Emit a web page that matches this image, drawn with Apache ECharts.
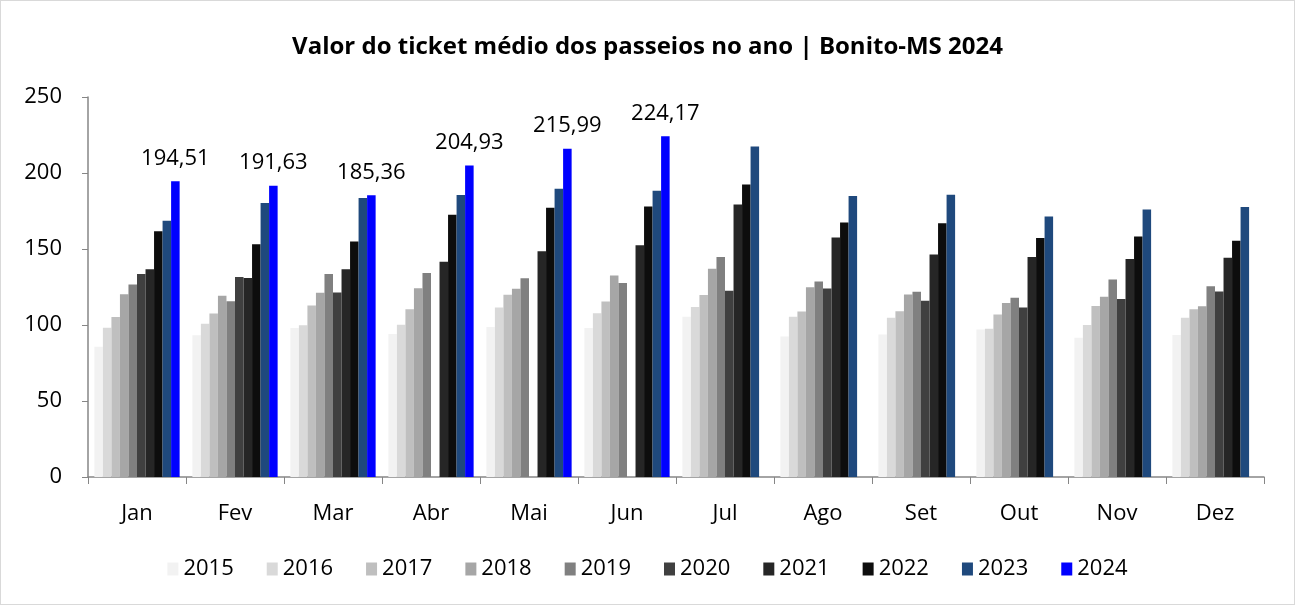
<!DOCTYPE html>
<html>
<head>
<meta charset="utf-8">
<script src="https://cdn.jsdelivr.net/npm/echarts@6/dist/echarts.min.js"></script>
<style>
  html, body { margin: 0; padding: 0; background: #fff; }
  #chart { width: 1293px; height: 603px; border: 1px solid #d9d9d9; }
</style>
</head>
<body>
<div id="chart"></div>
<script>
var months = ['Jan', 'Fev', 'Mar', 'Abr', 'Mai', 'Jun', 'Jul', 'Ago', 'Set', 'Out', 'Nov', 'Dez'];
var years = ['2015', '2016', '2017', '2018', '2019', '2020', '2021', '2022', '2023', '2024'];

var v2015 = [85.7, 93.3, 98.1, 94.0, 98.7, 98.1, 105.4, 92.4, 93.7, 97.0, 91.6, 93.5];
var v2016 = [98.2, 100.9, 99.8, 100.2, 111.5, 107.8, 111.9, 105.4, 104.8, 97.6, 100.0, 104.8];
var v2017 = [105.2, 107.6, 112.8, 110.4, 119.9, 115.4, 119.7, 108.9, 109.1, 106.9, 112.5, 110.4];
var v2018 = [120.3, 119.3, 121.2, 124.2, 123.8, 132.5, 137.0, 124.9, 120.1, 114.5, 118.6, 112.3];
var v2019 = [126.6, 115.6, 133.6, 134.2, 130.7, 127.7, 144.8, 128.6, 121.9, 118.0, 129.9, 125.5];
var v2020 = [133.6, 131.6, 121.4, null, null, null, 122.5, 124.0, 116.0, 111.5, 117.1, 122.1];
var v2021 = [136.6, 131.0, 136.6, 141.6, 148.5, 152.4, 179.2, 157.6, 146.3, 144.8, 143.5, 144.2];
var v2022 = [161.7, 153.2, 155.0, 172.5, 177.1, 177.9, 192.4, 167.5, 166.9, 157.3, 158.2, 155.4];
var v2023 = [168.6, 180.3, 183.6, 185.5, 189.6, 188.3, 217.5, 184.9, 185.7, 171.4, 176.0, 177.7];
var v2024 = [194.51, 191.63, 185.36, 204.93, 215.99, 224.17, null, null, null, null, null, null];

var values = [v2015, v2016, v2017, v2018, v2019, v2020, v2021, v2022, v2023, v2024];
var colors = ['#f2f2f2', '#d9d9d9', '#bfbfbf', '#a6a6a6', '#808080', '#404040', '#262626', '#0d0d0d', '#1f497d', '#0000ff'];

var font = 'Open Sans, sans-serif';
var chart = echarts.init(document.getElementById('chart'));

var series = years.map(function(y, i) {
  var s = {
    name: y,
    type: 'bar',
    data: values[i],
    barGap: '0%',
    barCategoryGap: '13%',
    itemStyle: { color: colors[i] },
    emphasis: { disabled: true }
  };
  if (y === '2024') {
    s.label = {
      show: true,
      position: 'top',
      distance: 12,
      color: '#000',
      fontFamily: font,
      fontSize: 22,
      formatter: function(p) { return p.value.toFixed(2).replace('.', ','); }
    };
  }
  return s;
});

chart.setOption({
  animation: false,
  color: colors,
  title: {
    text: 'Valor do ticket médio dos passeios no ano | Bonito-MS 2024',
    left: 'center',
    top: 29,
    textStyle: { fontFamily: font, fontWeight: 'bold', fontSize: 24, color: '#000' }
  },
  legend: {
    bottom: 19,
    left: 'center',
    itemWidth: 11,
    itemHeight: 13,
    itemGap: 33,
    icon: 'rect',
    textStyle: { fontFamily: font, fontSize: 22, color: '#000' },
    data: years
  },
  grid: { left: 87, right: 30, top: 96, bottom: 127 },
  xAxis: {
    type: 'category',
    data: months,
    axisLine: { lineStyle: { color: '#868686', width: 1.5 } },
    axisTick: { show: true, length: 7, lineStyle: { color: '#868686' } },
    axisLabel: { fontFamily: font, fontSize: 22, color: '#000', margin: 26 }
  },
  yAxis: {
    type: 'value',
    min: 0,
    max: 250,
    interval: 50,
    splitLine: { show: false },
    axisLine: { show: true, lineStyle: { color: '#868686', width: 1.5 } },
    axisTick: { show: true, length: 6, lineStyle: { color: '#868686' } },
    axisLabel: { fontFamily: font, fontSize: 22, color: '#000', margin: 26 }
  },
  series: series
});
</script>
</body>
</html>
